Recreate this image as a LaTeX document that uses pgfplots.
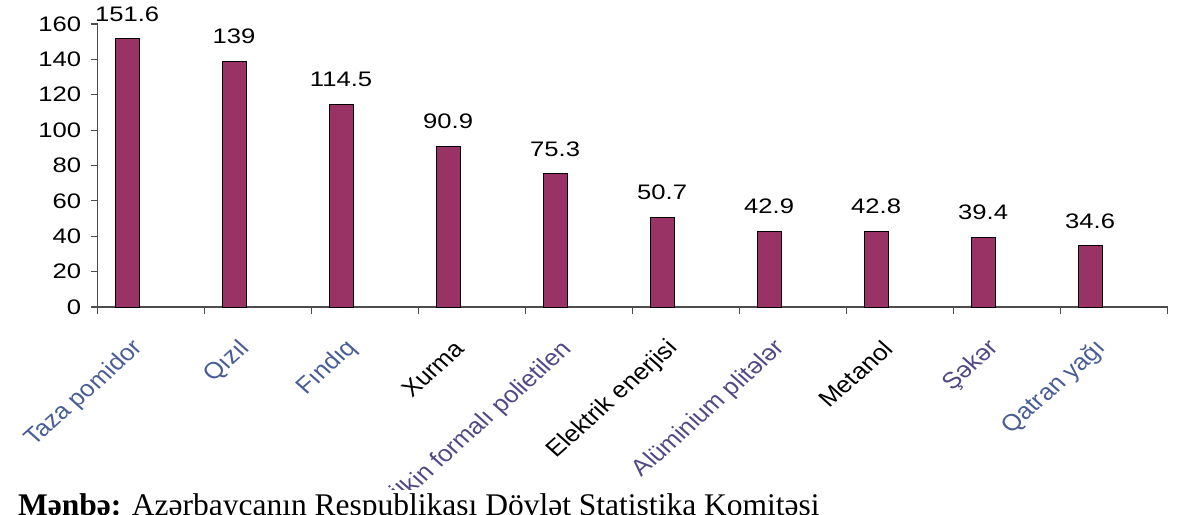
\documentclass[border=0pt]{standalone}
\usepackage{fontspec}
\usepackage{pgfplots}
\usepackage{pgfplotstable}
\pgfplotsset{compat=1.18}
\newfontfamily\chartfont{Liberation Sans}[FakeStretch=1.22]
\newfontfamily\labfont{Liberation Sans}
\newfontfamily\capfont{Liberation Serif}
\definecolor{barc}{RGB}{153,51,102}
\definecolor{labc}{RGB}{72,92,150}
\definecolor{labd}{RGB}{82,72,135}

\pgfplotstableread{
x    y     lab
0.5  151.6 151.6
1.5  139   139
2.5  114.5 114.5
3.5  90.9  90.9
4.5  75.3  75.3
5.5  50.7  50.7
6.5  42.9  42.9
7.5  42.8  42.8
8.5  39.4  39.4
9.5  34.6  34.6
}\exports

\begin{document}
\begin{tikzpicture}[x=1pt,y=1pt]
\useasboundingbox (0,0) rectangle (1183,514);
\begin{axis}[
    at={(97.6pt,207pt)}, anchor=south west,
    scale only axis, width=1070pt, height=283pt,
    xmin=0, xmax=10, ymin=0, ymax=160,
    axis x line=bottom, axis y line=left,
    axis line style={-, draw=black!70, line width=1.3pt},
    tick style={draw=black!70, line width=1.1pt},
    tick align=outside, major tick length=7pt,
    xtick={0,1,...,10}, xticklabels={},
    ytick={0,20,...,160},
    /pgf/number format/assume math mode=true,
    tick label style={font=\chartfont\fontsize{21}{21}\selectfont},
    yticklabel style={xshift=-6pt},
    extra x ticks={0.5,1.5,...,9.5},
    extra x tick labels={
        \textcolor{labc}{Taza pomidor},
        \textcolor{labc}{Qızıl},
        \textcolor{labc}{Fındıq},
        Xurma,
        \textcolor{labd}{İlkin formalı polietilen},
        Elektrik enerjisi,
        \textcolor{labd}{Alüminium plitələr},
        Metanol,
        \textcolor{labd}{Şəkər},
        \textcolor{labc}{Qatran yağı}},
    extra x tick style={major tick length=0pt,
        xticklabel style={xshift=-12pt, yshift=-38pt, xscale=1.12, rotate=45,
        anchor=east, inner sep=0pt,
        font=\labfont\fontsize{23}{23}\selectfont}},
    ybar, bar width=24pt, bar shift=-24pt,
    point meta=explicit symbolic,
    nodes near coords,
    every node near coord/.append style={font=\chartfont\fontsize{21}{21}\selectfont,
        inner sep=0pt, yshift=17pt},
    clip=false,
]
\addplot[fill=barc, draw=black, line width=0.9pt] table[x=x, y=y, meta=lab]{\exports};
\end{axis}
\node[anchor=base west, fill=white, inner xsep=0pt, inner ysep=3pt]
    at (18,-1) {\capfont\fontsize{31.5}{31.5}\selectfont\textbf{Mənbə:} Azərbaycanın Respublikası Dövlət Statistika Komitəsi};
\end{tikzpicture}
\end{document}
